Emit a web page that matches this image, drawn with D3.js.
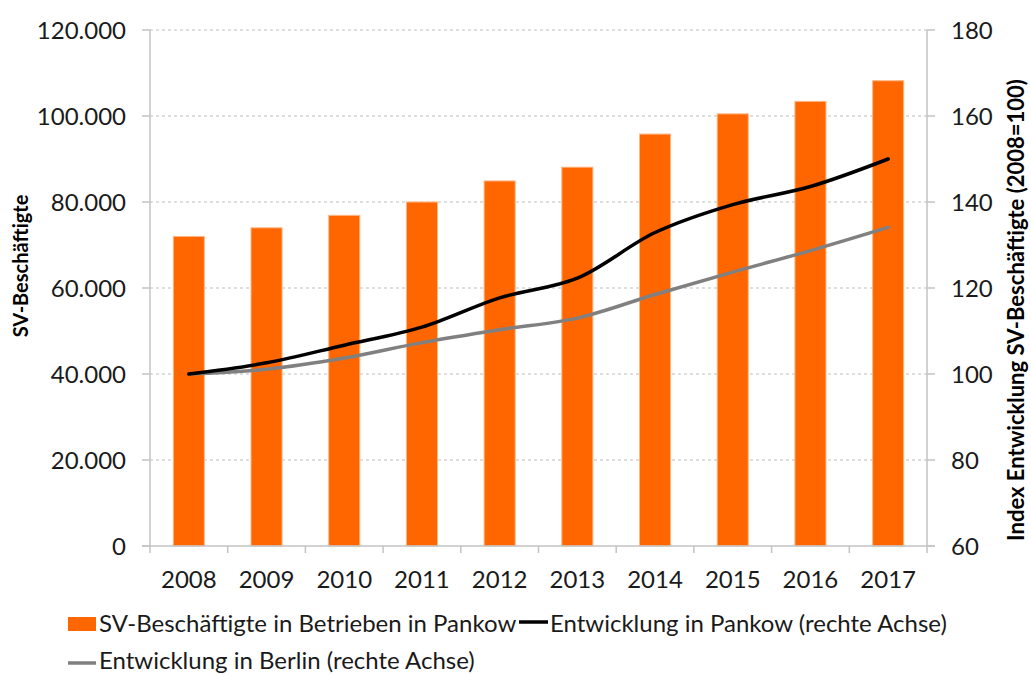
<!DOCTYPE html>
<html>
<head>
<meta charset="utf-8">
<script src="https://cdn.jsdelivr.net/npm/d3@7"></script>
<style>
  body { margin: 0; background: #fff; }
  svg { font-family: Lato, "Open Sans", sans-serif; }
</style>
</head>
<body>
<svg width="1031" height="675"></svg>
<script>
const years = ["2008", "2009", "2010", "2011", "2012", "2013", "2014", "2015", "2016", "2017"];
const employees = [72000, 74000, 76900, 80000, 84900, 88100, 95800, 100500, 103400, 108200];
const indexPankow = [100, 102.6, 106.7, 110.9, 117.7, 122.3, 132.9, 139.4, 143.6, 150.0];
const indexBerlin = [100, 101.1, 103.7, 107.3, 110.3, 113.0, 118.5, 123.7, 128.7, 134.1];
const leftTicks = [0, 20000, 40000, 60000, 80000, 100000, 120000];
const rightTicks = [60, 80, 100, 120, 140, 160, 180];

const svg = d3.select("svg");
const plotL = 150, plotR = 927, plotT = 30, plotB = 546;
const axisColor = "#c3c3c3";

const de = d3.formatLocale({ decimal: ",", thousands: ".", grouping: [3], currency: ["", " €"] });
const fmt = de.format(",");

const x = d3.scaleBand().domain(years).range([plotL, plotR]).paddingInner(0.6).paddingOuter(0.3);
const yLeft = d3.scaleLinear().domain([0, 120000]).range([plotB, plotT]);
const yRight = d3.scaleLinear().domain([60, 180]).range([plotB, plotT]);

// gridlines
svg.append("g").selectAll("line")
  .data(leftTicks.slice(1))
  .join("line")
  .attr("x1", plotL).attr("x2", plotR)
  .attr("y1", d => yLeft(d)).attr("y2", d => yLeft(d))
  .attr("stroke", "#bdbdbd").attr("stroke-width", 1)
  .attr("stroke-dasharray", "3,3");

// bars
svg.append("g").selectAll("rect")
  .data(years)
  .join("rect")
  .attr("x", d => x(d))
  .attr("width", x.bandwidth())
  .attr("y", (d, i) => yLeft(employees[i]))
  .attr("height", (d, i) => plotB - yLeft(employees[i]))
  .attr("fill", "#ff6600")
  .attr("stroke", "#ffb887").attr("stroke-width", 1);

// axes
const axes = svg.append("g").attr("stroke", axisColor).attr("stroke-width", 1.5);
axes.append("line").attr("x1", plotL).attr("x2", plotL).attr("y1", plotT).attr("y2", plotB);
axes.append("line").attr("x1", plotR).attr("x2", plotR).attr("y1", plotT).attr("y2", plotB);
axes.append("line").attr("x1", plotL - 8).attr("x2", plotR + 8).attr("y1", plotB).attr("y2", plotB);
axes.selectAll(".lt").data(leftTicks).join("line").attr("class", "lt")
  .attr("x1", plotL - 8).attr("x2", plotL).attr("y1", d => yLeft(d)).attr("y2", d => yLeft(d));
axes.selectAll(".rt").data(rightTicks).join("line").attr("class", "rt")
  .attr("x1", plotR).attr("x2", plotR + 8).attr("y1", d => yRight(d)).attr("y2", d => yRight(d));
const bounds = years.map(d => x(d) - x.step() * x.paddingInner() / 2).concat([plotR]);
axes.selectAll(".xt").data(bounds).join("line").attr("class", "xt")
  .attr("x1", d => d).attr("x2", d => d).attr("y1", plotB).attr("y2", plotB + 7);

// lines
const line = (vals) => d3.line()
  .x((d, i) => x(years[i]) + x.bandwidth() / 2)
  .y(d => yRight(d))
  .curve(d3.curveCatmullRom.alpha(0.5))(vals);

svg.append("path").attr("d", line(indexBerlin))
  .attr("fill", "none").attr("stroke", "#808080").attr("stroke-width", 3.5).attr("stroke-linecap", "round");
svg.append("path").attr("d", line(indexPankow))
  .attr("fill", "none").attr("stroke", "#000").attr("stroke-width", 3.5).attr("stroke-linecap", "round");

// tick labels
const labels = svg.append("g").attr("fill", "#1a1a1a").attr("font-size", 24);
labels.selectAll(".ll").data(leftTicks).join("text").attr("class", "ll")
  .attr("x", 126).attr("y", d => yLeft(d) + 8.7)
  .attr("text-anchor", "end").text(d => fmt(d));
labels.selectAll(".rl").data(rightTicks).join("text").attr("class", "rl")
  .attr("x", 951).attr("y", d => yRight(d) + 8.7)
  .text(d => d);
labels.selectAll(".xl").data(years).join("text").attr("class", "xl")
  .attr("x", d => x(d) + x.bandwidth() / 2).attr("y", 588)
  .attr("text-anchor", "middle").text(d => d);

// axis titles
svg.append("text")
  .attr("transform", "translate(28,266) rotate(-90)")
  .attr("text-anchor", "middle").attr("font-weight", "bold").attr("font-size", 20)
  .attr("fill", "#000").text("SV-Beschäftigte");
svg.append("text")
  .attr("transform", "translate(1024,310) rotate(-90)")
  .attr("text-anchor", "middle").attr("font-weight", "bold").attr("font-size", 22)
  .attr("fill", "#000").text("Index Entwicklung SV-Beschäftigte (2008=100)");

// legend
const legend = svg.append("g").attr("font-size", 24).attr("fill", "#1a1a1a");
legend.append("rect").attr("x", 68).attr("y", 617).attr("width", 28).attr("height", 14).attr("fill", "#ff6600");
legend.append("text").attr("x", 99).attr("y", 632).text("SV-Beschäftigte in Betrieben in Pankow");
legend.append("line").attr("x1", 519).attr("x2", 548).attr("y1", 622).attr("y2", 622)
  .attr("stroke", "#000").attr("stroke-width", 3.5);
legend.append("text").attr("x", 550).attr("y", 632).text("Entwicklung in Pankow (rechte Achse)");
legend.append("line").attr("x1", 68).attr("x2", 96).attr("y1", 663).attr("y2", 663)
  .attr("stroke", "#808080").attr("stroke-width", 3.5);
legend.append("text").attr("x", 99).attr("y", 669).text("Entwicklung in Berlin (rechte Achse)");
</script>
</body>
</html>
